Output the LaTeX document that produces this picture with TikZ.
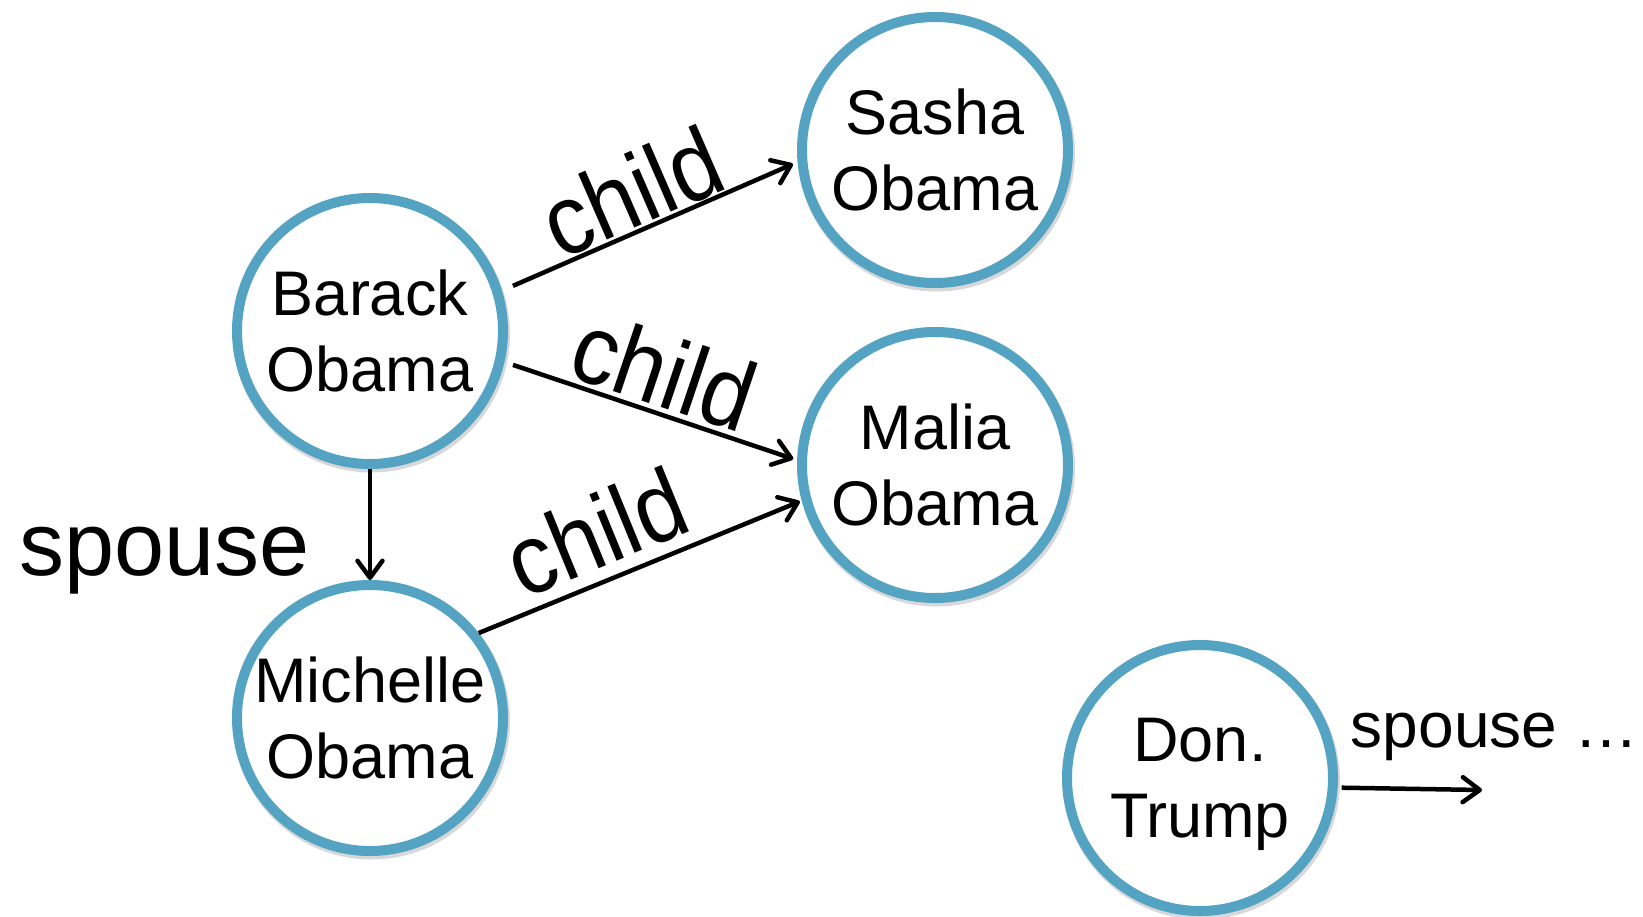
\documentclass[tikz,border=0pt]{standalone}
\usepackage{fontspec}
\setmainfont{Liberation Sans}
\usepackage{graphicx}
\usepackage{xcolor}
\usepackage{tikz}
\usetikzlibrary{arrows.meta,shadows}
\definecolor{ringblue}{HTML}{54A3C2}

\begin{document}
\begin{tikzpicture}[x=1pt,y=-1pt,>={Straight Barb[length=17pt,width=25pt,round]}]

\tikzset{
ent/.style={
    circle,
    draw=ringblue,
    line width=10pt,
    fill=white,
    minimum size=266pt,
    inner sep=0pt,
    align=center,
    text depth=0pt,
    font=\fontsize{63}{76}\selectfont,
    drop shadow={shadow xshift=1.5pt,shadow yshift=-3pt,opacity=0.25,fill=black!60,draw=black!60,line width=11pt}
},
rel/.style={->,line width=4.5pt,color=black},
lab/.style={font=\fontsize{90}{90}\selectfont,inner sep=0pt},
labsmall/.style={font=\fontsize{64}{64}\selectfont,inner sep=0pt}
}

\fill[white] (0,0) rectangle (1643,916);
\useasboundingbox (0,0) rectangle (1643,916);

\node[ent] (barack) at (370,331) {Barack\\Obama};
\node[ent] (sasha) at (935,150) {Sasha\\Obama};
\node[ent] (malia) at (935,465) {Malia\\Obama};
\node[ent] (michelle) at (370,718) {Michelle\\Obama};
\node[ent] (trump) at (1200,778) {Don.\\Trump};
\coordinate (more) at (1482,790);

\draw[rel,shorten <=12pt,shorten >=5pt] (barack.17.5) -- (sasha.185)
    node[lab,pos=0.49,sloped,anchor=base,yshift=4pt] {\scalebox{1}[1.1]{child}};
\draw[rel,shorten <=9pt,shorten >=4pt] (barack.-13.4) -- (malia.178.4)
    node[lab,pos=0.5,sloped,anchor=base,yshift=7pt] {\scalebox{1}[1.1]{child}};
\draw[rel,shorten >=2pt] (michelle.38.8) -- (malia.195)
    node[lab,pos=0.42,sloped,anchor=base,yshift=14pt] {\scalebox{1}[1.1]{child}};
\draw[rel] (barack) -- (michelle)
    node[lab,pos=1,anchor=base east,xshift=-58pt,yshift=5pt] {spouse};
\draw[rel,shorten <=4pt] (trump.-4.8) -- (more)
    node[labsmall,pos=0,anchor=base west,xshift=11pt,yshift=40pt] {spouse …};

\end{tikzpicture}
\end{document}
